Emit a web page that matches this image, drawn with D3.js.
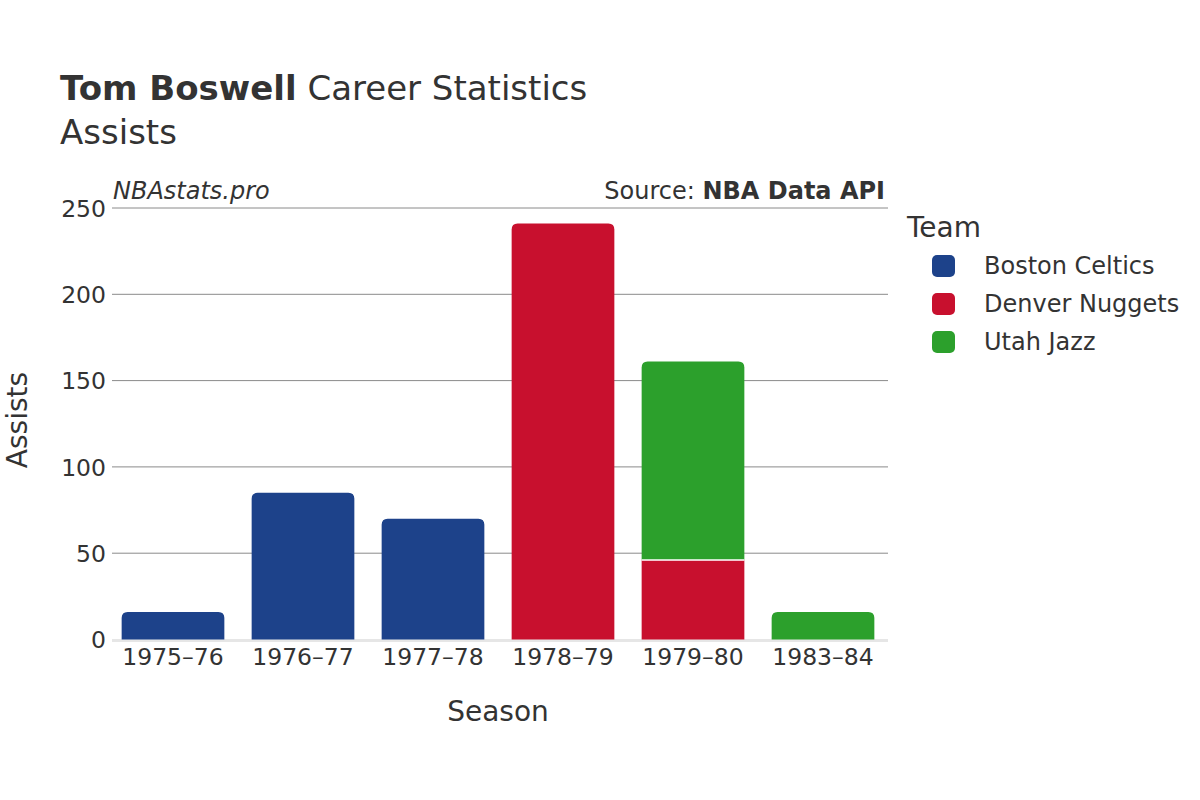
<!DOCTYPE html>
<html><head><meta charset="utf-8">
<script src="https://cdn.jsdelivr.net/npm/d3@7"></script>
<style>body{margin:0;background:#fff}svg{font-family:"DejaVu Sans",sans-serif}</style>
</head><body><svg id="c" width="1200" height="800"></svg>
<script>
const seasons = ["1975\u201376","1976\u201377","1977\u201378","1978\u201379","1979\u201380","1983\u201384"];
const teams = ["Boston Celtics","Denver Nuggets","Utah Jazz"];
const teamColors = ["#1d428a","#c8102e","#2ca02c"];
const bostonCeltics = [16, 85, 70, 0, 0, 0];
const denverNuggets = [0, 0, 0, 241, 46, 0];
const utahJazz = [0, 0, 0, 0, 115, 16];
const yTicks = [0, 50, 100, 150, 200, 250];

const series = [bostonCeltics, denverNuggets, utahJazz];
const svg = d3.select("#c");
const txt = "#333";
const x = d3.scaleBand().domain(seasons).range([108, 888]).paddingInner(0.21).paddingOuter(0.105);
const y = d3.scaleLinear().domain([0, 250]).range([639.5, 208]);

// gridlines
svg.append("g").selectAll("line").data(yTicks.filter(d => d > 0)).join("line")
  .attr("x1", 112).attr("x2", 888).attr("y1", d => y(d)).attr("y2", d => y(d))
  .attr("stroke", "#8a8a8a").attr("stroke-width", 1);
svg.append("line").attr("x1", 112).attr("x2", 888).attr("y1", y(0) + 1).attr("y2", y(0) + 1)
  .attr("stroke", "#e6e6e6").attr("stroke-width", 3);

// y tick labels
const yAxis = d3.axisLeft(y).tickValues(yTicks).tickSize(0).tickPadding(0);
const ya = svg.append("g").attr("transform", "translate(106,0)").call(yAxis);
ya.select(".domain").remove();
ya.selectAll("text").attr("font-size", 23.5).attr("fill", txt).attr("font-family", "DejaVu Sans").attr("dy", "0.35em");

// x tick labels
const xAxis = d3.axisBottom(x).tickSize(0).tickPadding(0);
const xa = svg.append("g").attr("transform", "translate(0,646)").call(xAxis);
xa.select(".domain").remove();
xa.selectAll("text").attr("font-size", 23.5).attr("fill", txt).attr("font-family", "DejaVu Sans").attr("dy", "0.8em");

// bars
const r = 6;
function topRounded(x0, y0, w, h, rr) {
  rr = Math.min(rr, h, w / 2);
  return `M${x0},${y0 + h}V${y0 + rr}Q${x0},${y0} ${x0 + rr},${y0}H${x0 + w - rr}Q${x0 + w},${y0} ${x0 + w},${y0 + rr}V${y0 + h}Z`;
}
const bars = svg.append("g");
seasons.forEach((s, i) => {
  let base = 0;
  let lastIdx = -1;
  series.forEach((arr, t) => { if (arr[i] > 0) lastIdx = t; });
  series.forEach((arr, t) => {
    const v = arr[i];
    if (!v) return;
    const y0 = y(base + v), y1 = y(base);
    const bx = x(s), bw = x.bandwidth();
    if (t === lastIdx) {
      bars.append("path").attr("d", topRounded(bx, y0, bw, y1 - y0, r)).attr("fill", teamColors[t]);
    } else {
      bars.append("rect").attr("x", bx).attr("y", y0).attr("width", bw).attr("height", y1 - y0).attr("fill", teamColors[t]);
    }
    if (base > 0) {
      bars.append("line").attr("x1", bx).attr("x2", bx + bw).attr("y1", y1).attr("y2", y1).attr("stroke", "#fff").attr("stroke-width", 1.5);
    }
    base += v;
  });
});

// titles
const t1 = svg.append("text").attr("x", 60).attr("y", 100).attr("font-size", 34).attr("fill", txt);
t1.append("tspan").attr("font-weight", "bold").text("Tom Boswell");
t1.append("tspan").text(" Career Statistics");
svg.append("text").attr("x", 60).attr("y", 144).attr("font-size", 34).attr("fill", txt).text("Assists");

svg.append("text").attr("x", 113).attr("y", 199).attr("font-size", 24).attr("font-style", "italic").attr("fill", txt).text("NBAstats.pro");
const src = svg.append("text").attr("x", 885).attr("y", 199).attr("font-size", 24).attr("text-anchor", "end").attr("fill", txt);
src.append("tspan").text("Source: ");
src.append("tspan").attr("font-weight", "bold").text("NBA Data API");

// axis titles
svg.append("text").attr("x", 498).attr("y", 721).attr("font-size", 28).attr("text-anchor", "middle").attr("fill", txt).text("Season");
svg.append("text").attr("transform", "translate(27,420) rotate(-90)").attr("font-size", 28).attr("text-anchor", "middle").attr("fill", txt).text("Assists");

// legend
svg.append("text").attr("x", 907).attr("y", 237).attr("font-size", 28).attr("fill", txt).text("Team");
const lg = svg.append("g").selectAll("g").data(teams).join("g")
  .attr("transform", (d, i) => `translate(0,${266 + i * 38})`);
lg.append("rect").attr("x", 932).attr("y", -11).attr("width", 23).attr("height", 22).attr("rx", 5)
  .attr("fill", (d, i) => teamColors[i]);
lg.append("text").attr("x", 984).attr("y", 0).attr("dy", "0.35em").attr("font-size", 24).attr("fill", txt).text(d => d);
</script></body></html>
